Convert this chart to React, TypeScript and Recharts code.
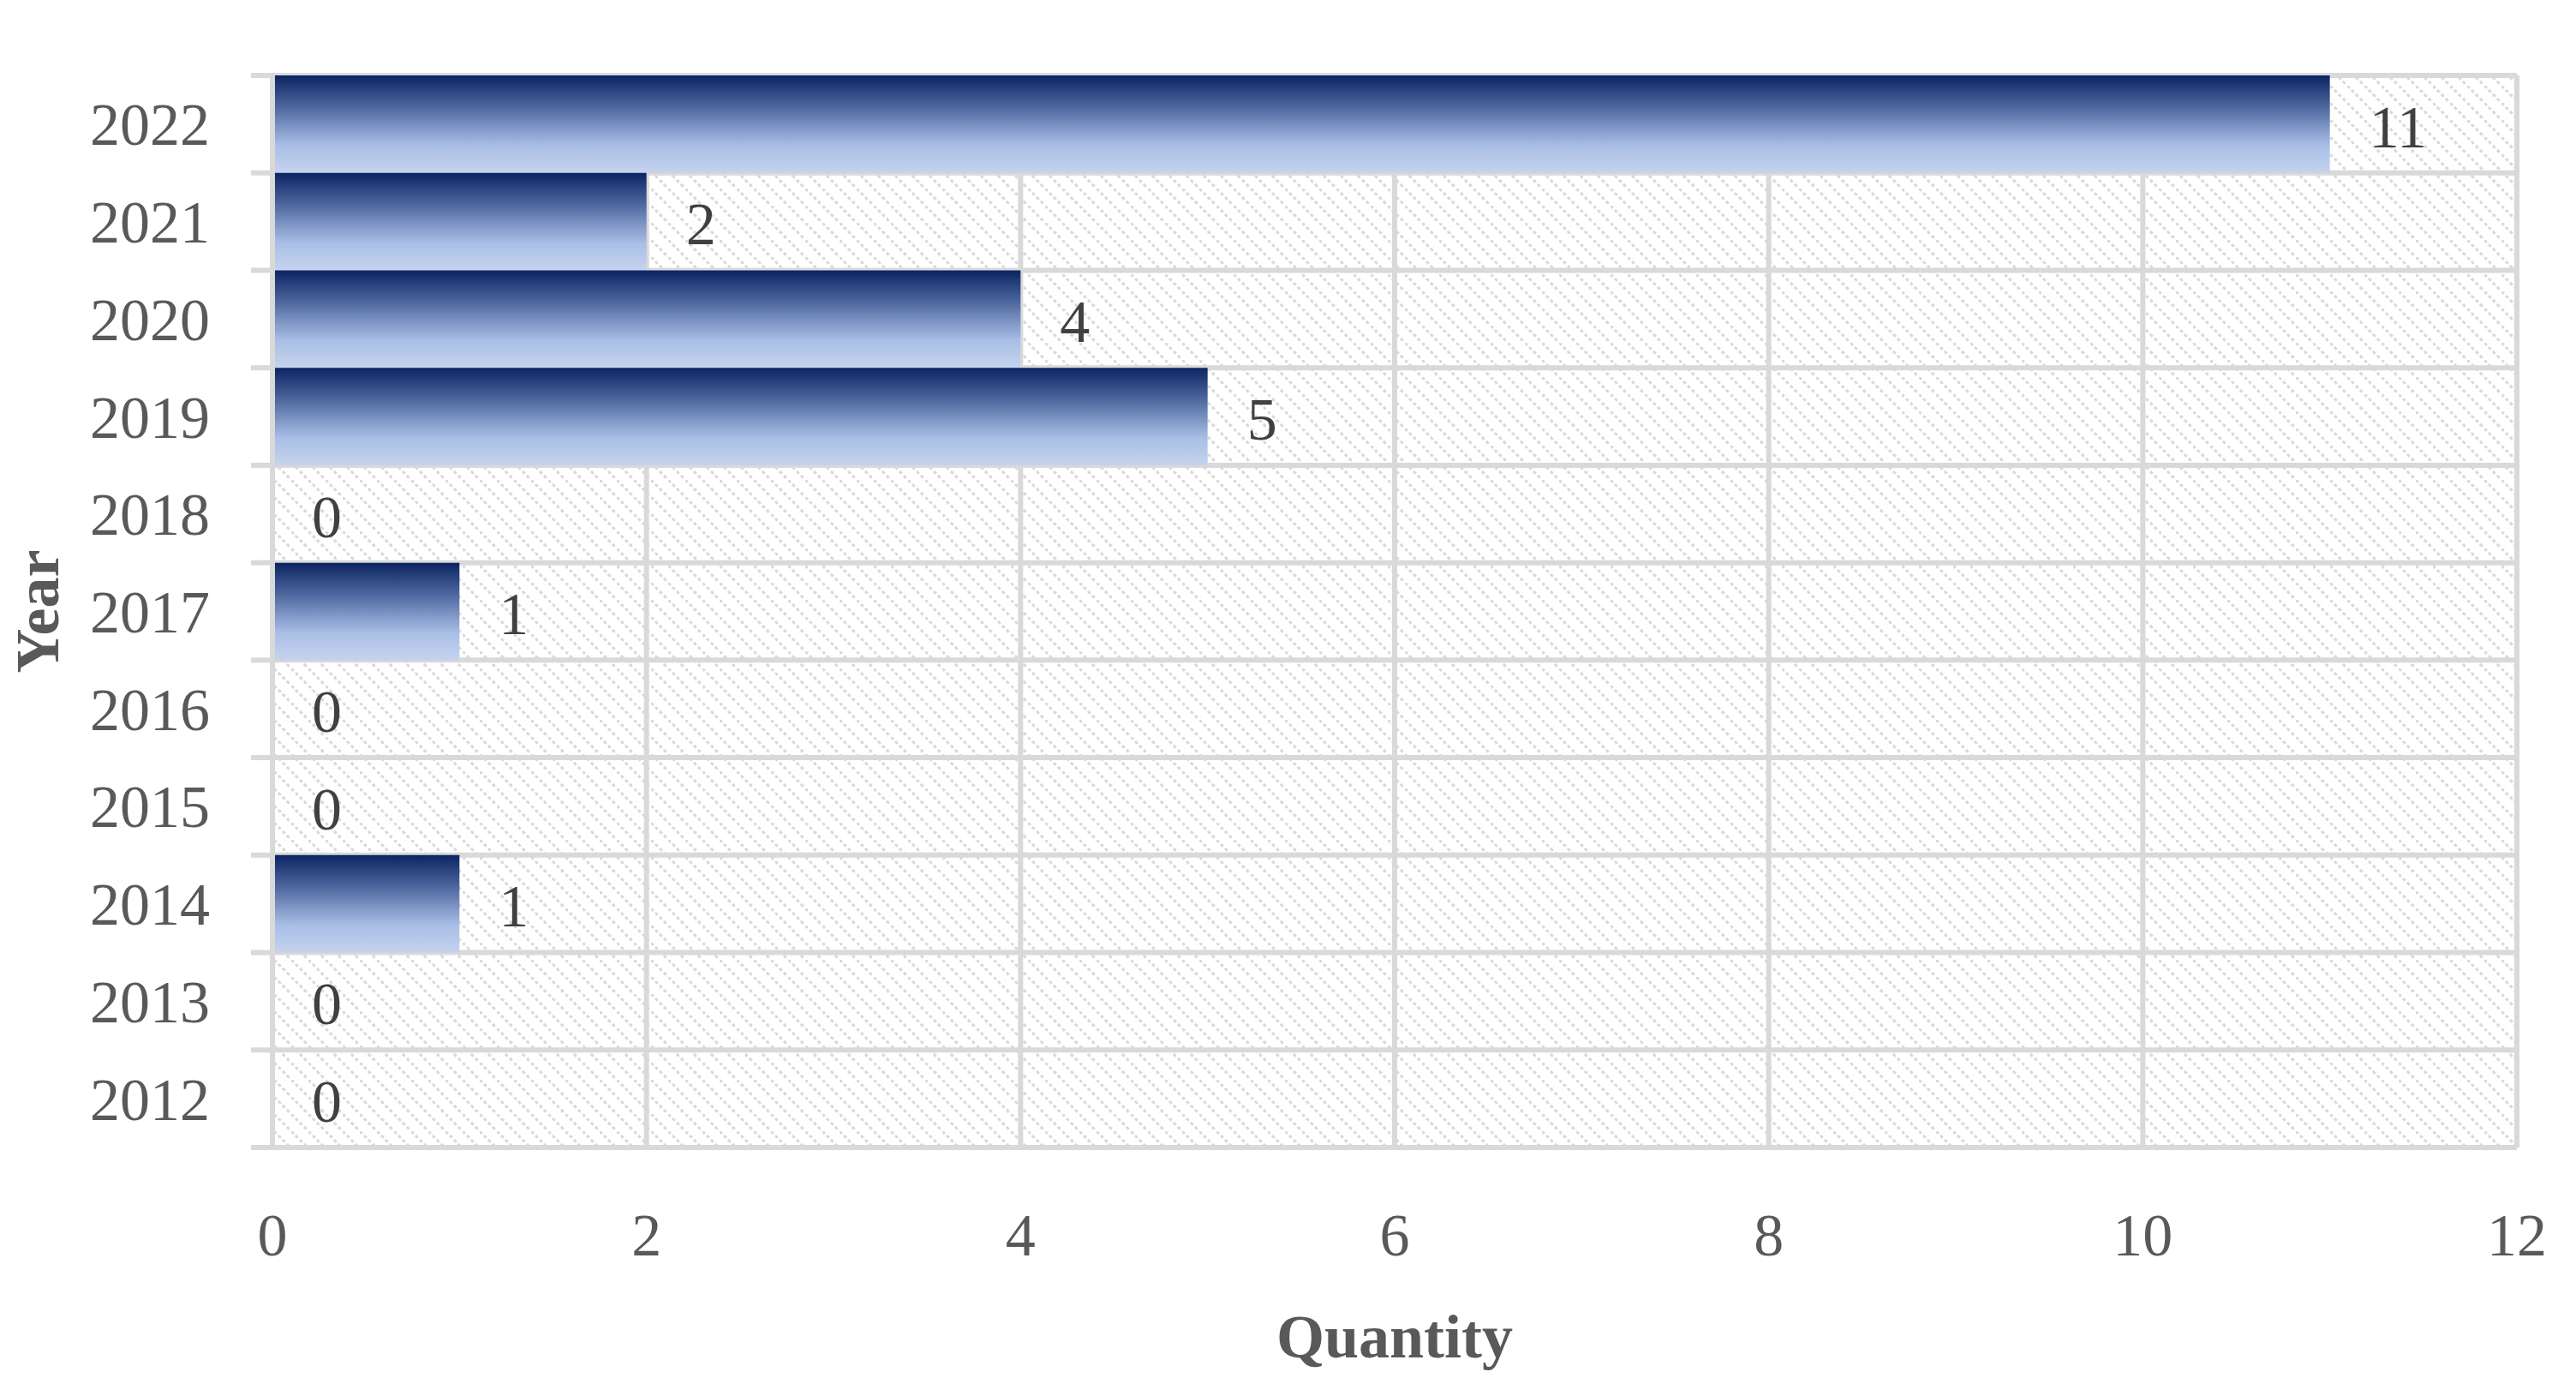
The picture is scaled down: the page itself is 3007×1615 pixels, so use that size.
import React from "react";
import {
  BarChart,
  Bar,
  XAxis,
  YAxis,
  CartesianGrid,
  LabelList,
  Label,
} from "recharts";

const years = ["2022", "2021", "2020", "2019", "2018", "2017", "2016", "2015", "2014", "2013", "2012"];
const quantities = [11, 2, 4, 5, 0, 1, 0, 0, 1, 0, 0];
const xTicks = [0, 2, 4, 6, 8, 10, 12];

const W = 3007;
const H = 1615;
const MARGIN = { top: 88, right: 69, bottom: 0, left: 0 };
const X_AXIS_H = 276;
const Y_AXIS_W = 318;
const FONT = "'Liberation Serif', 'Times New Roman', serif";
const GRID = "#d9d9d9";
const BAND = (H - MARGIN.top - MARGIN.bottom - X_AXIS_H) / years.length;

const data = years.map((year, i) => ({ year, qty: quantities[i] }));

// year labels plus the little tick marks at the category boundaries
function YearTick(props: any) {
  const { x, y, payload, index } = props;
  const lineX1 = x + 48;
  const lineX2 = Y_AXIS_W;
  return (
    <g>
      <line x1={lineX1} x2={lineX2} y1={y - BAND / 2} y2={y - BAND / 2} stroke={GRID} strokeWidth={6} />
      {index === years.length - 1 && (
        <line x1={lineX1} x2={lineX2} y1={y + BAND / 2} y2={y + BAND / 2} stroke={GRID} strokeWidth={6} />
      )}
      <text
        x={x}
        y={y}
        dy="0.35em"
        textAnchor="end"
        fill="#595959"
        fontSize={70}
        fontFamily={FONT}
      >
        {payload.value}
      </text>
    </g>
  );
}

// value label to the right of each bar, drawn for zero values too
function ValueLabel(props: any) {
  const { x, y, width, height, value } = props;
  return (
    <text
      x={Number(x) + Number(width) + 46}
      y={Number(y) + Number(height) / 2}
      dy="0.38em"
      textAnchor="start"
      fill="#404040"
      fontSize={70}
      fontFamily={FONT}
    >
      {value}
    </text>
  );
}

export default function App() {
  return (
    <div style={{ position: "absolute", left: 0, top: 0, width: W, height: H, background: "#fff" }}>
      <BarChart
        width={W}
        height={H}
        data={data}
        layout="vertical"
        margin={MARGIN}
        barCategoryGap={0}
        barGap={0}
      >
        <defs>
          <linearGradient id="barGrad" x1="0" y1="0" x2="0" y2="1">
            <stop offset="0%" stopColor="#0b2463" />
            <stop offset="30%" stopColor="#47639a" />
            <stop offset="55%" stopColor="#8399c8" />
            <stop offset="72%" stopColor="#a9bfe6" />
            <stop offset="100%" stopColor="#c6d3ee" />
          </linearGradient>
          <pattern id="hatch" width="20" height="20" patternUnits="userSpaceOnUse">
            <rect width="20" height="20" fill="#ffffff" />
            <line x1="0" y1="0" x2="20" y2="20" stroke="#d9d9d9" strokeWidth={3} strokeDasharray="4 3" />
          </pattern>
        </defs>
        <CartesianGrid
          fill="url(#hatch)"
          fillOpacity={1}
          stroke={GRID}
          strokeWidth={6}
          horizontalCoordinatesGenerator={({ offset }: any) =>
            years.map((_, i) => offset.top + i * (offset.height / years.length)).concat(offset.top + offset.height)
          }
        />
        <XAxis
          type="number"
          domain={[0, 12]}
          ticks={xTicks}
          height={X_AXIS_H}
          axisLine={false}
          tickLine={false}
          tickSize={0}
          tickMargin={76}
          tick={{ fill: "#595959", fontSize: 70, fontFamily: FONT }}
        >
          <Label
            value="Quantity"
            position="insideBottom"
            offset={31}
            fill="#595959"
            fontSize={72}
            fontWeight="bold"
            fontFamily={FONT}
          />
        </XAxis>
        <YAxis
          type="category"
          dataKey="year"
          width={Y_AXIS_W}
          axisLine={{ stroke: GRID, strokeWidth: 6 }}
          tickLine={false}
          tickSize={25}
          tickMargin={48}
          interval={0}
          tick={<YearTick />}
        >
          <Label
            value="Year"
            angle={-90}
            position="insideLeft"
            offset={42}
            fill="#595959"
            fontSize={72}
            fontWeight="bold"
            fontFamily={FONT}
            style={{ textAnchor: "middle" }}
          />
        </YAxis>
        <Bar dataKey="qty" fill="url(#barGrad)" minPointSize={0.01} isAnimationActive={false}>
          <LabelList dataKey="qty" content={<ValueLabel />} />
        </Bar>
      </BarChart>
    </div>
  );
}
